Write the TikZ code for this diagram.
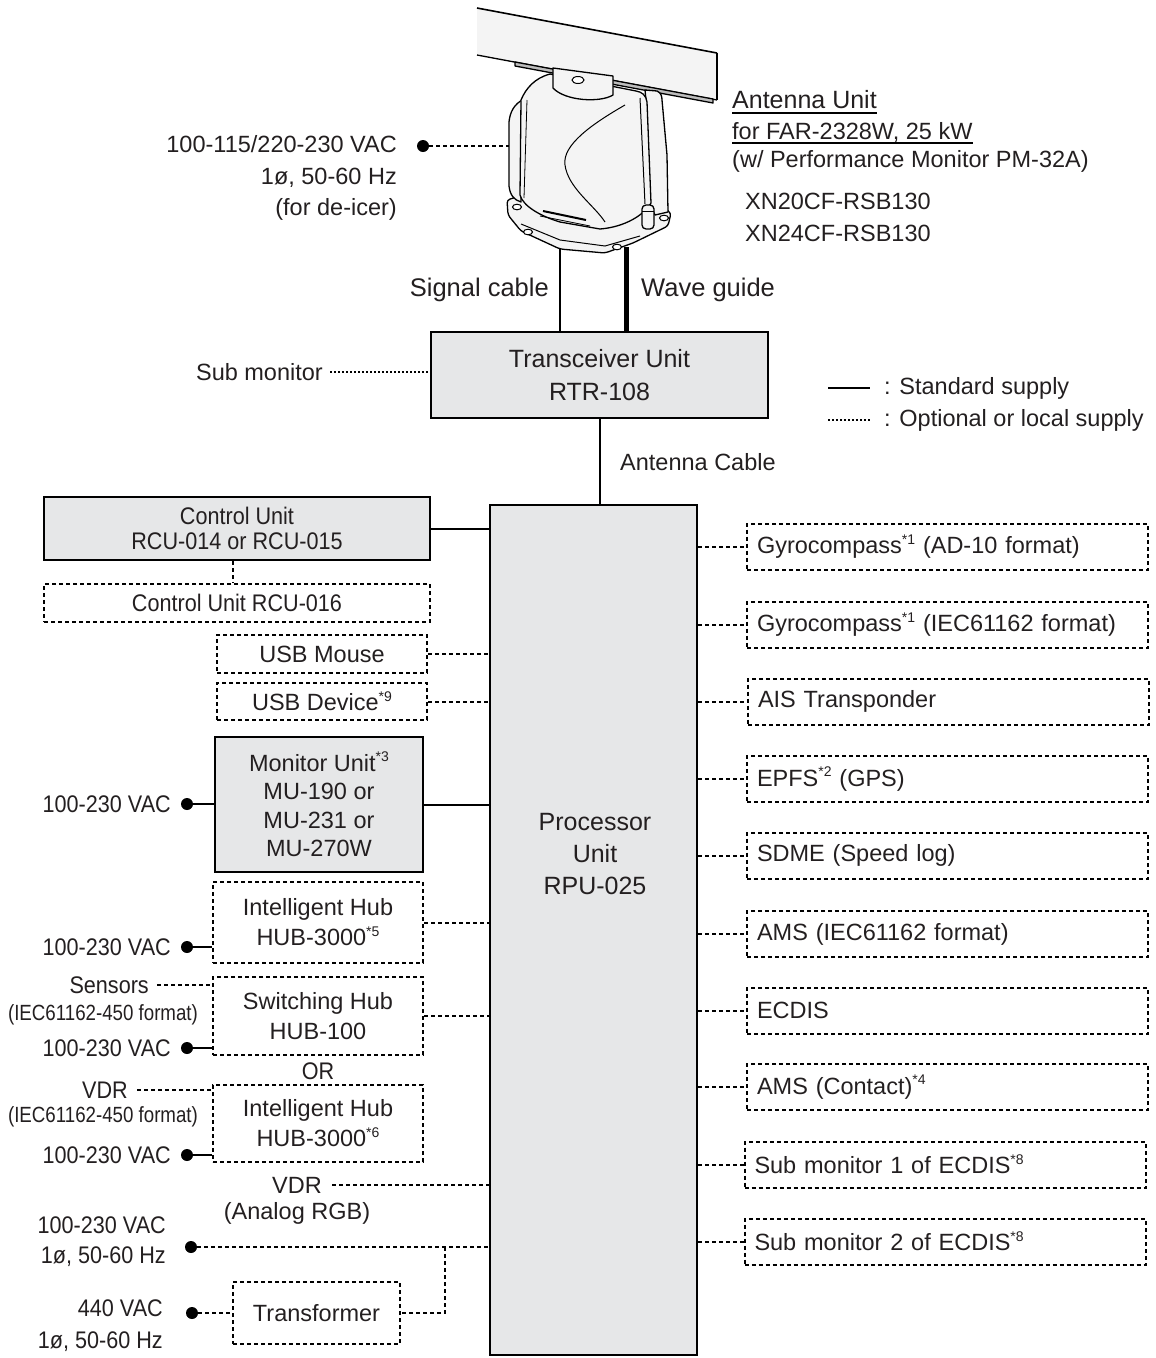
\documentclass[tikz,border=0pt]{standalone}
\usepackage{fontspec}
\setmainfont{Liberation Sans}
\newfontfamily\cnd[FakeStretch=0.9]{Liberation Sans}
\newfontfamily\cndd[FakeStretch=0.85]{Liberation Sans}
\definecolor{txt}{HTML}{231F20}
\definecolor{boxgray}{HTML}{E6E7E8}
\definecolor{antfill}{HTML}{F4F4F4}
\definecolor{antdark}{HTML}{BDBDBD}
\newcommand{\supx}[1]{\raisebox{0.40em}{\fontsize{14}{14}\selectfont #1}}
\tikzset{
 base/.style={font=\fontsize{23.5}{28}\selectfont, text=txt, inner sep=0pt},
 gbox/.style={base, draw=black, line width=2.2pt, fill=boxgray},
 obox/.style={base, draw=black, line width=2pt, dash pattern=on 4pt off 3pt},
 rbox/.style={obox, minimum width=401pt, minimum height=46pt, text width=381pt, inner xsep=10pt, align=left},
 std/.style={line width=2pt},
 opt/.style={line width=2pt, dash pattern=on 4pt off 3pt},
 dotl/.style={line width=1.6pt, dash pattern=on 1.8pt off 2.2pt},
 pdot/.style={circle, fill=black, minimum size=12pt, inner sep=0pt},
 cndlbl/.style={base, font=\cnd\fontsize{24}{30}\selectfont},
 ieclbl/.style={base, font=\cndd\fontsize{22}{26}\selectfont},
 antline/.style={line width=1.3pt, line join=round},
}
\begin{document}
\begin{tikzpicture}[x=1pt,y=-1pt]
\useasboundingbox (0,0) rectangle (1156,1358);

% ---------------- antenna drawing ----------------
% radiator
\fill[antfill] (477,8) -- (717,53) -- (717,100) -- (477,55) -- cycle;
\draw[line width=1.6pt] (477,8) -- (717,53);
\draw[antline] (717,53) -- (717,100);
\draw[antline] (477,55) -- (717,100);
\draw[antline, fill=antdark] (515,62) -- (713,99) -- (713,103) -- (515,66) -- cycle;
% base flange
\draw[antline, fill=antfill, rounded corners=3pt] (507,200) -- (508,215) -- (521,231) -- (560,249) -- (605,253) -- (633,243) -- (668,226) -- (671,213) -- (660,205) -- (520,196) -- cycle;
\foreach \bx/\by in {517/207, 528/232, 617/247, 664/218}
  \draw[line width=1pt, fill=white] (\bx,\by) ellipse (4.5pt and 2.8pt);
\draw[line width=1pt] (521,224) -- (560,240) -- (605,246) -- (640,236);
% left side panel
\draw[antline, fill=antfill] (524,99) .. controls (514,104) and (510,112) .. (509,122) -- (509,186) .. controls (510,195) and (514,200) .. (521,202) -- cycle;
% right post
\draw[antline, fill=antfill] (645,90) -- (657,91) .. controls (661,93) and (662,96) .. (662,100) -- (667,155) -- (668,212) -- (655,215) -- (650,204) -- (646,100) -- cycle;
% body
\draw[antline, fill=antfill] (550,74) .. controls (535,78) and (526,88) .. (521,100) -- (520,195) .. controls (523,206) and (540,216) .. (560,222) -- (600,229) .. controls (625,227) and (644,215) .. (651,203) -- (647,102) .. controls (646,95) and (642,92) .. (636,91) -- cycle;
\draw[line width=1pt] (640,98) -- (645,204);
\draw[line width=0.8pt] (527,100) -- (524,198);
% front curve
\draw[line width=1pt] (625,105) .. controls (592,124) and (562,145) .. (565,165) .. controls (568,188) and (594,205) .. (605,222);
% slot
\draw[line width=2pt] (543,211) -- (586,220);
\draw[line width=0.8pt] (540,216) -- (590,226);
% cable gland at right
\draw[antline, fill=antfill, rounded corners=4pt] (642,205) rectangle (654,229);
\draw[line width=0.8pt] (642,211) -- (654,211);
% rotating joint
\draw[antline, fill=antfill] (553,68) -- (553,88) .. controls (565,101) and (600,103) .. (613,95) -- (613,76) -- cycle;
\draw[line width=1pt, fill=white] (578,80) ellipse (6pt and 3.5pt);

% ---------------- antenna labels ----------------
\node[base, anchor=west, font=\fontsize{25}{30}\selectfont] (au1) at (732,100) {Antenna Unit};
\node[base, anchor=west] (au2) at (732,132) {for FAR-2328W, 25 kW};
\node[base, anchor=west] (au3) at (732,161) {(w/ Performance Monitor PM-32A)};
\node[base, anchor=west] (au4) at (745,201) {XN20CF-RSB130};
\node[base, anchor=west] (au5) at (745,233) {XN24CF-RSB130};
\draw[line width=1.3pt] ([yshift=-4pt]au1.base west) -- ([yshift=-4pt]au1.base east);
\draw[line width=1.3pt] ([yshift=-4pt]au2.base west) -- ([yshift=-4pt]au2.base east);

% de-icer supply
\node[pdot] (pw0) at (423,146) {};
\node[base, anchor=east, align=right, font=\fontsize{23.5}{31.5}\selectfont] (lpw0) at (397,178) {100-115/220-230 VAC\\1ø, 50-60 Hz\\(for de-icer)};
\coordinate (antL) at (509,146);
\draw[opt] (pw0) -- (antL);

% ---------------- transceiver ----------------
\node[gbox, minimum width=337pt, minimum height=86pt, align=center, font=\fontsize{25}{33}\selectfont] (trx) at (599.5,375) {Transceiver Unit\\RTR-108};
\coordinate (sigtop) at (560,249);
\coordinate (wgtop) at (626,247);
\draw[std] (sigtop) -- (sigtop |- trx.north);
\draw[line width=5pt] (wgtop) -- (wgtop |- trx.north);
\node[base, anchor=east, font=\fontsize{25.5}{30}\selectfont] (sigl) at (549,290) {Signal cable};
\node[base, anchor=west, font=\fontsize{25.5}{30}\selectfont] (wgl) at (641,290) {Wave guide};

\node[base, anchor=east] (subm) at (323,372) {Sub monitor};
\draw[dotl] ([xshift=7pt]subm.east) -- (subm.east -| trx.west);

% legend
\coordinate (lga) at (828,388);
\coordinate (lgb) at (870,388);
\coordinate (lgc) at (828,420);
\coordinate (lgd) at (870,420);
\draw[std] (lga) -- (lgb);
\draw[dotl] (lgc) -- (lgd);
\node[base, anchor=west] (lgt1) at (884,388) {: Standard supply};
\node[base, anchor=west] (lgt2) at (884,420) {: Optional or local supply};

% ---------------- processor ----------------
\node[gbox, line width=2.6pt, minimum width=207pt, minimum height=850pt] (proc) at (593.5,930) {};
\node[base, align=center, font=\fontsize{25}{32}\selectfont] (proctxt) at (595,854) {Processor\\Unit\\RPU-025};
\draw[std] (trx.south) -- (trx.south |- proc.north);
\node[base, anchor=west] (acl) at (620,462) {Antenna Cable};

% ---------------- left column ----------------
\node[gbox, minimum width=386pt, minimum height=63pt, align=center, font=\cnd\fontsize{24}{25}\selectfont] (ctrl) at (237,528.5) {Control Unit\\RCU-014 or RCU-015};
\node[obox, minimum width=386pt, minimum height=38pt, font=\cnd\fontsize{24}{28}\selectfont] (rcu) at (237,603) {Control Unit RCU-016};
\coordinate (cx) at (233,0);
\draw[opt] (ctrl.south -| cx) -- (rcu.north -| cx);
\draw[std] (ctrl.east) -- (ctrl.east -| proc.west);

\node[obox, minimum width=210pt, minimum height=38pt] (mouse) at (322,654) {USB Mouse};
\node[obox, minimum width=210pt, minimum height=37pt] (usbd) at (322,701.5) {USB Device\supx{*9}};
\draw[opt] (mouse.east) -- (mouse.east -| proc.west);
\draw[opt] (usbd.east) -- (usbd.east -| proc.west);

\node[gbox, minimum width=208pt, minimum height=135pt, align=center, font=\fontsize{23.5}{28.5}\selectfont] (mon) at (319,804.5) {Monitor Unit\supx{*3}\\MU-190 or\\MU-231 or\\MU-270W};
\draw[std] (mon.east) -- (mon.east -| proc.west);
\node[pdot] (pw1) at (187,804) {};
\node[cndlbl, anchor=east] (lpw1) at (171,804) {100-230 VAC};
\draw[std] (pw1) -- (pw1 -| mon.west);

\node[obox, minimum width=210pt, minimum height=81pt, align=center, font=\fontsize{23.5}{30}\selectfont] (hubA) at (318,922.5) {Intelligent Hub\\HUB-3000\supx{*5}};
\draw[opt] (hubA.east) -- (hubA.east -| proc.west);
\node[pdot] (pw2) at (187,947) {};
\node[cndlbl, anchor=east] (lpw2) at (171,947) {100-230 VAC};
\draw[std] (pw2) -- (pw2 -| hubA.west);

\node[obox, minimum width=210pt, minimum height=78pt, align=center, font=\fontsize{23.5}{30}\selectfont] (swhub) at (318,1016) {Switching Hub\\HUB-100};
\draw[opt] (swhub.east) -- (swhub.east -| proc.west);
\node[cndlbl, anchor=east] (sens) at (149,985) {Sensors};
\draw[opt] ([xshift=8pt]sens.east) -- (sens.east -| swhub.west);
\node[ieclbl] (iec1) at (103,1015) {(IEC61162-450 format)};
\node[pdot] (pw3) at (187,1048) {};
\node[cndlbl, anchor=east] (lpw3) at (171,1048) {100-230 VAC};
\draw[std] (pw3) -- (pw3 -| swhub.west);

\node[cndlbl] (orl) at (318,1071) {OR};

\node[obox, minimum width=210pt, minimum height=77pt, align=center, font=\fontsize{23.5}{30}\selectfont] (hubB) at (318,1123.5) {Intelligent Hub\\HUB-3000\supx{*6}};
\node[cndlbl, anchor=east] (vdr1) at (128,1090) {VDR};
\draw[opt] ([xshift=9pt]vdr1.east) -- (vdr1.east -| hubB.west);
\node[ieclbl] (iec2) at (103,1117) {(IEC61162-450 format)};
\node[pdot] (pw4) at (187,1155) {};
\node[cndlbl, anchor=east] (lpw4) at (171,1155) {100-230 VAC};
\draw[std] (pw4) -- (pw4 -| hubB.west);

\node[base] (vdr2) at (297,1185) {VDR};
\node[base] (vdr2b) at (297,1213) {(Analog RGB)};
\draw[opt] ([xshift=10pt]vdr2.east) -- (vdr2.east -| proc.west);

\node[obox, minimum width=167pt, minimum height=62pt] (trans) at (316.5,1313) {Transformer};
\node[pdot] (pw5) at (191,1247) {};
\node[cndlbl, anchor=east, align=right] (lpw5) at (166,1242) {100-230 VAC\\1ø, 50-60 Hz};
\coordinate (jn) at (445,1247);
\draw[opt] (pw5) -- (pw5 -| proc.west);
\draw[opt] (jn) -- (jn |- trans.east) -- (trans.east);
\node[pdot] (pw6) at (192,1313) {};
\node[cndlbl, anchor=east, align=right, font=\cnd\fontsize{24}{32}\selectfont] (lpw6) at (163,1326) {440 VAC\\1ø, 50-60 Hz};
\draw[opt] (pw6) -- (trans.west);

% ---------------- right column ----------------
\node[rbox] (r1) at (947.5,546.5) {Gyrocompass\supx{*1} (AD-10 format)};
\node[rbox] (r2) at (947.5,624.5) {Gyrocompass\supx{*1} (IEC61162 format)};
\node[rbox] (r3) at (948.5,701.5) {AIS Transponder};
\node[rbox] (r4) at (947.5,779) {EPFS\supx{*2} (GPS)};
\node[rbox] (r5) at (947.5,855.5) {SDME (Speed log)};
\node[rbox] (r6) at (947.5,934) {AMS (IEC61162 format)};
\node[rbox] (r7) at (947.5,1010.5) {ECDIS};
\node[rbox] (r8) at (947.5,1087) {AMS (Contact)\supx{*4}};
\node[rbox] (r9) at (945,1164.5) {Sub monitor 1 of ECDIS\supx{*8}};
\node[rbox] (r10) at (945,1241.5) {Sub monitor 2 of ECDIS\supx{*8}};
\foreach \r in {r1,r2,r3,r4,r5,r6,r7,r8,r9,r10}
  \draw[opt] (proc.east |- \r.west) -- (\r.west);
\end{tikzpicture}
\end{document}
